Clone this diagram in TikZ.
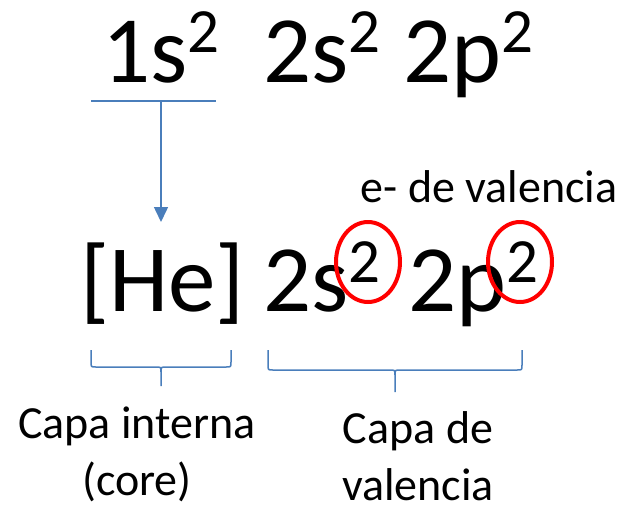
\documentclass[tikz,border=0pt]{standalone}
\usepackage{fontspec}
\setmainfont{Carlito}
\usetikzlibrary{arrows.meta,positioning,calc}
\definecolor{azul}{HTML}{4A7EBB}
\newcommand{\expo}[2]{\raisebox{#2pt}{\fontsize{63}{63}\selectfont #1}}
% llave: x izq, x der, x punta, y arriba, y horizontal, y punta
\newcommand{\llave}[6]{%
  \draw[azulito] (#1,#4) -- (#1,#5-5) .. controls (#1,#5) .. (#1+5,#5) -- (#3-5,#5) .. controls (#3,#5) .. (#3,#5+5) -- (#3,#6)
    (#2,#4) -- (#2,#5-5) .. controls (#2,#5) .. (#2-5,#5) -- (#3+5,#5) .. controls (#3,#5) .. (#3,#5+5);}

\begin{document}
\begin{tikzpicture}[x=1pt,y=-1pt,
  grande/.style={font=\fontsize{95}{95}\selectfont,inner sep=0pt,anchor=base west},
  chico/.style={font=\fontsize{46}{57}\selectfont,inner sep=0pt,anchor=base,align=center},
  azulito/.style={draw=azul,line width=1.5pt},
  marca/.style={draw=red,line width=4pt}]
  \useasboundingbox (0,0) rectangle (629,507);
  \node[grande] (s1) at (102,82) {1s\expo{2}{30}}; % configuracion completa
  \node[grande] (s2) at (263,82) {2s\expo{2}{30}};
  \node[grande] (p2) at (403,82) {2p\expo{2}{30}};
  \coordinate (u) at (161,101); % centro del subrayado
  \coordinate (flecha) at (161,222);
  \draw[azulito] (91,101) -- (216,101); % subrayado de 1s2
  \draw[azulito,-{Triangle[length=15pt,width=14pt]}] (u) -- (flecha);
  \node[chico] (ev) at (489,202) {e- de valencia};
  \node[grande] (he) at (80,311) {[He]}; % configuracion abreviada
  \node[grande] (s2b) at (263,311) {2s\expo{2}{29}};
  \node[grande] (p2b) at (408,311) {2p\expo{2}{29}};
  \draw[marca] (368,262) ellipse [x radius=32pt,y radius=40pt]; % electrones de valencia
  \draw[marca] (520,262) ellipse [x radius=32pt,y radius=40pt];
  \llave{91}{231}{161}{350}{367}{386} % capa interna
  \llave{268}{522}{395}{350}{370}{392} % capa de valencia
  \node[chico] (core) at (137,495) {Capa interna\\(core)}; % base = ultima linea
  \node[chico] (val) at (418,500) {Capa de\\valencia};
\end{tikzpicture}
\end{document}
